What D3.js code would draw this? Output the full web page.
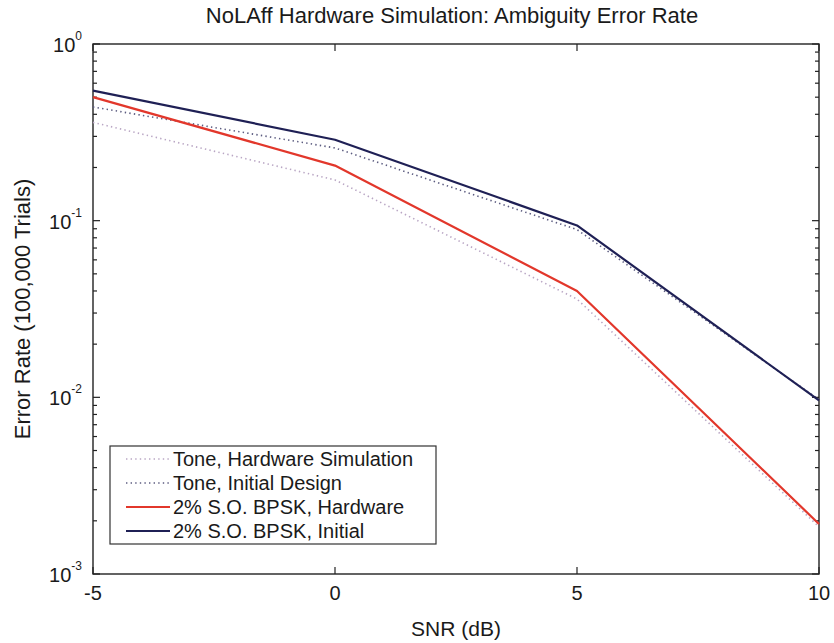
<!DOCTYPE html>
<html>
<head>
<meta charset="utf-8">
<script src="https://cdn.jsdelivr.net/npm/d3@7"></script>
<style>
  html, body { margin: 0; padding: 0; background: #fff; }
  svg { display: block; }
  text { font-family: "Liberation Sans", Arial, Helvetica, sans-serif; fill: #1a1a1a; }
</style>
</head>
<body>
<svg id="chart" width="834" height="643"></svg>
<script>
// SNR points (dB)
const snr = [-5, 0, 5, 10];

// Ambiguity error rate for each configuration
const toneHardware = [0.36, 0.170, 0.036, 0.00185];
const toneInitial  = [0.44, 0.258, 0.089, 0.0097];
const bpskHardware = [0.50, 0.205, 0.040, 0.00192];
const bpskInitial  = [0.545, 0.287, 0.094, 0.0096];

const seriesNames = [
  "Tone, Hardware Simulation",
  "Tone, Initial Design",
  "2% S.O. BPSK, Hardware",
  "2% S.O. BPSK, Initial"
];

const xTicks = [-5, 0, 5, 10];
const yDecades = [-3, -2, -1, 0];

const svg = d3.select("#chart");
const m = { left: 93, right: 819, top: 44, bottom: 574 };

const x = d3.scaleLinear().domain([-5, 10]).range([m.left, m.right]);
const y = d3.scaleLog().domain([1e-3, 1]).range([m.bottom, m.top]);

const series = [
  { name: seriesNames[0], values: toneHardware, color: "#b9a6c4", width: 1.6, dash: "1.4,3.2" },
  { name: seriesNames[1], values: toneInitial,  color: "#5c5c80", width: 1.6, dash: "1.4,3.2" },
  { name: seriesNames[2], values: bpskHardware, color: "#e2372b", width: 2.2, dash: null },
  { name: seriesNames[3], values: bpskInitial,  color: "#1f2055", width: 2.2, dash: null }
];

// Axes box
svg.append("rect")
  .attr("x", m.left).attr("y", m.top)
  .attr("width", m.right - m.left).attr("height", m.bottom - m.top)
  .attr("fill", "#fff").attr("stroke", "#222").attr("stroke-width", 1.4);

// x ticks (inward, top and bottom)
const tg = svg.append("g").attr("stroke", "#222").attr("stroke-width", 1.2);
xTicks.forEach(t => {
  tg.append("line").attr("x1", x(t)).attr("x2", x(t)).attr("y1", m.bottom).attr("y2", m.bottom - 7);
  tg.append("line").attr("x1", x(t)).attr("x2", x(t)).attr("y1", m.top).attr("y2", m.top + 7);
});

// y ticks: major decades and minor log ticks, on both sides
const minor = [];
for (let d = -3; d < 0; d++) for (let k = 2; k <= 9; k++) minor.push(k * Math.pow(10, d));
yDecades.forEach(d => {
  const v = Math.pow(10, d);
  tg.append("line").attr("x1", m.left).attr("x2", m.left + 7).attr("y1", y(v)).attr("y2", y(v));
  tg.append("line").attr("x1", m.right).attr("x2", m.right - 7).attr("y1", y(v)).attr("y2", y(v));
});
minor.forEach(v => {
  tg.append("line").attr("x1", m.left).attr("x2", m.left + 4).attr("y1", y(v)).attr("y2", y(v));
  tg.append("line").attr("x1", m.right).attr("x2", m.right - 4).attr("y1", y(v)).attr("y2", y(v));
});

// x tick labels
xTicks.forEach(t => {
  svg.append("text").attr("x", x(t)).attr("y", m.bottom + 26)
    .attr("text-anchor", "middle").attr("font-size", 20).text(t);
});

// y tick labels as 10 with superscript exponent
yDecades.forEach(d => {
  const tx = svg.append("text").attr("x", m.left - 11).attr("y", y(Math.pow(10, d)) + 8)
    .attr("text-anchor", "end").attr("font-size", 20);
  tx.append("tspan").text("10");
  tx.append("tspan").attr("dy", -12).attr("font-size", 12).text(d);
});

// Title and axis labels
svg.append("text").attr("x", 452).attr("y", 23)
  .attr("text-anchor", "middle").attr("font-size", 22)
  .text("NoLAff Hardware Simulation: Ambiguity Error Rate");
svg.append("text").attr("x", (m.left + m.right) / 2).attr("y", 636)
  .attr("text-anchor", "middle").attr("font-size", 21).text("SNR (dB)");
svg.append("text")
  .attr("transform", `translate(30,${(m.top + m.bottom) / 2}) rotate(-90)`)
  .attr("text-anchor", "middle").attr("font-size", 22)
  .text("Error Rate (100,000 Trials)");

// Series lines
const line = d3.line().x((d, i) => x(snr[i])).y(d => y(d));
series.forEach(s => {
  svg.append("path").datum(s.values)
    .attr("d", line)
    .attr("fill", "none")
    .attr("stroke", s.color)
    .attr("stroke-width", s.width)
    .attr("stroke-dasharray", s.dash)
    .attr("stroke-linejoin", "round");
});

// Legend
const lg = svg.append("g");
const lx = 110, ly = 446, lw = 326, lh = 98, rowH = 24;
lg.append("rect").attr("x", lx).attr("y", ly).attr("width", lw).attr("height", lh)
  .attr("fill", "#fff").attr("stroke", "#333").attr("stroke-width", 1.2);
series.forEach((s, i) => {
  const cy = ly + 13 + i * rowH;
  lg.append("line").attr("x1", lx + 16).attr("x2", lx + 60).attr("y1", cy).attr("y2", cy)
    .attr("stroke", s.color).attr("stroke-width", s.width).attr("stroke-dasharray", s.dash);
  lg.append("text").attr("x", lx + 63).attr("y", cy + 7).attr("font-size", 20).text(s.name);
});
</script>
</body>
</html>
